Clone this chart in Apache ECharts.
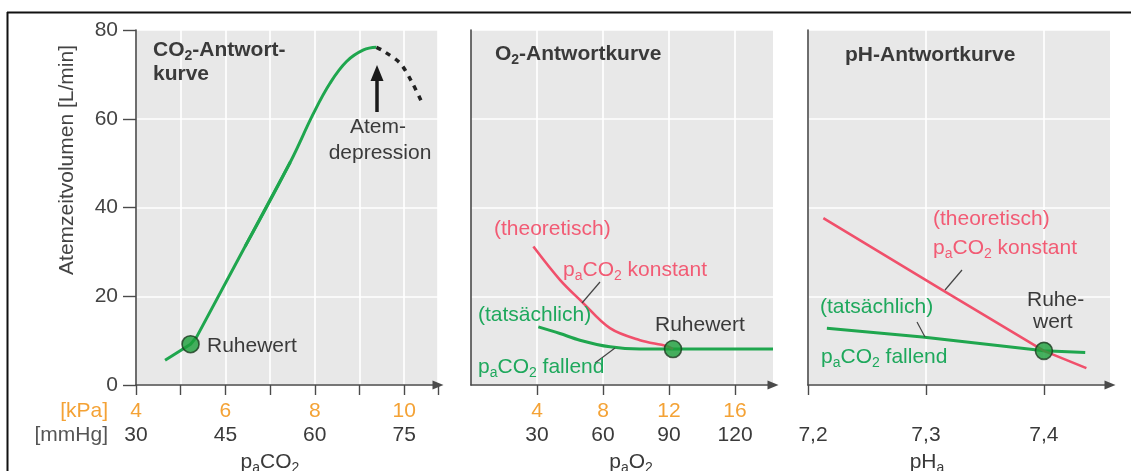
<!DOCTYPE html>
<html>
<head>
<meta charset="utf-8">
<script src="https://cdn.jsdelivr.net/npm/echarts@6/dist/echarts.min.js"></script>
<style>html,body{margin:0;padding:0;background:#fff}#c{width:1131px;height:471px}</style>
</head>
<body>
<div id="c"></div>
<script>
// ---------- DATA ----------
// Panel 1: CO2-Antwortkurve, x = paCO2 in kPa, y = Atemzeitvolumen [L/min]
const co2Lower = [[4.65,5.6],[5.22,9.2],[5.36,10.9],[6.44,31.2],[7.45,50.2]];
const co2Upper = [[6.44,31.2],[7.45,50.2],[7.97,61.2],[8.34,68.0],[8.71,72.9],[9.09,75.5],[9.38,76.1]];
const co2Depression = [[9.38,76.1],[9.53,75.3],[9.91,72.5],[10.17,68.3],[10.39,63.8]];
const co2Rest = [[5.22,9.2]];
// Panel 2: O2-Antwortkurve, x = paO2 in kPa
const o2Theoretical = [[3.78,31.2],[5.39,23.7],[6.71,18.8],[8.42,12.8],[10.24,10.1],[11.86,8.8],[12.24,8.1]];
const o2Actual = [[4.08,13.1],[5.39,11.6],[6.6,10.1],[8.42,8.6],[10.24,8.1],[12.24,8.1],[18.3,8.1]];
const o2Rest = [[12.24,8.1]];
// Panel 3: pH-Antwortkurve, x = pHa
const phTheoretical = [[7.213,37.6],[7.314,21.4],[7.4,7.7],[7.436,3.8]];
const phActual = [[7.216,12.8],[7.297,10.8],[7.4,7.7],[7.435,7.3]];
const phRest = [[7.4,7.7]];
// Tick labels
const yTicks = [0,20,40,60,80];
const co2KpaTicks = [4,6,8,10];
const co2MmHgTicks = ['30','45','60','75'];
const o2KpaTicks = [4,8,12,16];
const o2MmHgTicks = ['30','60','90','120'];
const phTicks = [7.2,7.3,7.4];
const phTickLabels = ['7,2','7,3','7,4'];

// ---------- STYLE ----------
const FONT = "'Liberation Sans', Arial, Helvetica, sans-serif";
const GREEN = '#1fa64e', GREEN_T = '#1ea85c', RED = '#f0506b', RED_T = '#f25b74';
const ORANGE = '#f4a235', DARK = '#3a3a3a', AXIS = '#4a4a4a', BG = '#e8e8e8';
const FS = 21;

function idxOf(arr, v){ for (let i=0;i<arr.length;i++) if (Math.abs(arr[i]-v)<1e-6) return i; return -1; }
const labelRich = {
  k:{color:ORANGE, fontSize:FS, fontFamily:FONT, lineHeight:24},
  m:{color:DARK, fontSize:FS, fontFamily:FONT, lineHeight:24},
  p:{color:DARK, fontSize:FS, fontFamily:FONT, lineHeight:24, padding:[0,0,0,10]}
};

function xAx(gi, min, max, extra){
  return Object.assign({
    type:'value', gridIndex:gi, min:min, max:max,
    axisLine:{show:true, onZero:false, symbol:['none','triangle'], symbolSize:[9,11], lineStyle:{color:AXIS, width:1.6}},
    axisTick:{show:true, length:10, lineStyle:{color:AXIS, width:1.4}},
    splitLine:{show:true, lineStyle:{color:'#ffffff', width:1.6}}
  }, extra);
}
function yAx(gi, showLabels){
  return {
    type:'value', gridIndex:gi, min:0, max:80, interval:20,
    axisLine:{show:true, lineStyle:{color:AXIS, width:1.6}},
    axisTick:{show:showLabels, length:13, lineStyle:{color:AXIS, width:1.4}},
    axisLabel:{show:showLabels, fontSize:FS, fontFamily:FONT, color:'#444', margin:18},
    splitLine:{show:true, lineStyle:{color:'#ffffff', width:1.6}}
  };
}

function rich(color, bold){
  const w = bold ? 'bold' : 'normal';
  return {
    n:{fontSize:FS, fontFamily:FONT, fontWeight:w, fill:color, lineHeight:26},
    s:{fontSize:14, fontFamily:FONT, fontWeight:w, fill:color, lineHeight:14, verticalAlign:'bottom'}
  };
}
function T(x, y, text, color, opt){
  opt = opt || {};
  return {type:'text', x:x, y:y, z:100, rotation:opt.rot || 0,
    style:{text:text, align:opt.align || 'left', verticalAlign:'middle', rich:rich(color, opt.bold)}};
}
function L(x1,y1,x2,y2,w,c){
  return {type:'line', z:90, shape:{x1:x1,y1:y1,x2:x2,y2:y2}, style:{stroke:c||'#444', lineWidth:w||1.2}};
}

const restItem = {color:'#1a9f3a', borderColor:'#1d3b21', borderWidth:1.6};

const option = {
  animation:false,
  backgroundColor:'#ffffff',
  grid:[
    {left:136, top:30, width:302, height:355, show:true, backgroundColor:BG, borderWidth:0},
    {left:471, top:30, width:302, height:355, show:true, backgroundColor:BG, borderWidth:0},
    {left:808, top:30, width:302, height:355, show:true, backgroundColor:BG, borderWidth:0}
  ],
  xAxis:[
    xAx(0, 4, 10.756, {interval:1,
      axisLabel:{customValues:co2KpaTicks, margin:14, rich:labelRich,
        formatter:function(v){const i=idxOf(co2KpaTicks,v); return i<0?'':'{k|'+v+'}\n{m|'+co2MmHgTicks[i]+'}';}}}),
    xAx(1, 0, 18.3, {
      axisTick:{show:true, customValues:o2KpaTicks, length:10, lineStyle:{color:AXIS, width:1.4}},
      axisLabel:{customValues:o2KpaTicks, margin:14, rich:labelRich,
        formatter:function(v){const i=idxOf(o2KpaTicks,v); return i<0?'':'{k|'+v+'}\n{m|'+o2MmHgTicks[i]+'}';}}}),
    xAx(2, 7.2, 7.456, {
      axisTick:{show:true, customValues:phTicks, length:10, lineStyle:{color:AXIS, width:1.4}},
      axisLabel:{customValues:phTicks, margin:14, rich:labelRich,
        formatter:function(v){const i=idxOf(phTicks,v); return i<0?'':'{k| }\n{'+(i===0?'p':'m')+'|'+phTickLabels[i]+'}';}}})
  ],
  yAxis:[ yAx(0,true), yAx(1,false), yAx(2,false) ],
  series:[
    {type:'line', xAxisIndex:0, yAxisIndex:0, data:co2Lower, showSymbol:false, smooth:false,
      lineStyle:{color:GREEN, width:3}, z:3},
    {type:'line', xAxisIndex:0, yAxisIndex:0, data:co2Upper, showSymbol:false, smooth:0.4,
      lineStyle:{color:GREEN, width:3}, z:3},
    {type:'line', xAxisIndex:0, yAxisIndex:0, data:co2Depression, showSymbol:false, smooth:0.3,
      lineStyle:{color:'#222', width:3.5, type:[5,6]}, z:3},
    {type:'scatter', xAxisIndex:0, yAxisIndex:0, data:co2Rest, symbolSize:17, itemStyle:restItem, z:5},

    {type:'line', xAxisIndex:1, yAxisIndex:1, data:o2Actual, showSymbol:false, smooth:0.35,
      lineStyle:{color:GREEN, width:3}, z:3},
    {type:'line', xAxisIndex:1, yAxisIndex:1, data:o2Theoretical, showSymbol:false, smooth:0.35,
      lineStyle:{color:RED, width:2.6}, z:4},
    {type:'scatter', xAxisIndex:1, yAxisIndex:1, data:o2Rest, symbolSize:17, itemStyle:restItem, z:5},

    {type:'line', xAxisIndex:2, yAxisIndex:2, data:phActual, showSymbol:false, smooth:false,
      lineStyle:{color:GREEN, width:3}, z:3},
    {type:'line', xAxisIndex:2, yAxisIndex:2, data:phTheoretical, showSymbol:false, smooth:false,
      lineStyle:{color:RED, width:2.6}, z:4},
    {type:'scatter', xAxisIndex:2, yAxisIndex:2, data:phRest, symbolSize:17, itemStyle:restItem, z:5}
  ],
  graphic:[
    // frame
    L(7,12.5,1131,12.5,2,'#111'), L(7.5,12,7.5,471,2,'#111'),
    // y axis name
    T(67,160,'{n|Atemzeitvolumen [L/min]}','#444',{align:'center',rot:Math.PI/2}),
    // unit labels
    T(108,411,'{n|[kPa]}',ORANGE,{align:'right'}),
    T(108,435,'{n|[mmHg]}','#555',{align:'right'}),
    // axis names
    T(270,462,'{n|p}{s|a}{n|CO}{s|2}',DARK,{align:'center'}),
    T(631,462,'{n|p}{s|a}{n|O}{s|2}',DARK,{align:'center'}),
    T(927,462,'{n|pH}{s|a}',DARK,{align:'center'}),
    // panel 1
    T(153,50,'{n|CO}{s|2}{n|-Antwort-}',DARK,{bold:true}),
    T(153,74,'{n|kurve}',DARK,{bold:true}),
    T(207,346,'{n|Ruhewert}',DARK),
    T(378,127,'{n|Atem-}',DARK,{align:'center'}),
    T(380,153,'{n|depression}',DARK,{align:'center'}),
    L(377,112,377,78,3.5,'#1a1a1a'),
    {type:'polygon', z:90, shape:{points:[[370.5,81],[383.5,81],[377,65]]}, style:{fill:'#1a1a1a'}},
    // panel 2
    T(495,54,'{n|O}{s|2}{n|-Antwortkurve}',DARK,{bold:true}),
    T(494,229,'{n|(theoretisch)}',RED_T),
    T(563,270,'{n|p}{s|a}{n|CO}{s|2}{n| konstant}',RED_T),
    L(600,282,582,303),
    T(478,315,'{n|(tatsächlich)}',GREEN_T),
    T(655,325,'{n|Ruhewert}',DARK),
    T(478,367,'{n|p}{s|a}{n|CO}{s|2}{n| fallend}',GREEN_T),
    L(595,363,615,348),
    // panel 3
    T(845,55,'{n|pH-Antwortkurve}',DARK,{bold:true}),
    T(933,219,'{n|(theoretisch)}',RED_T),
    T(933,248,'{n|p}{s|a}{n|CO}{s|2}{n| konstant}',RED_T),
    L(962,270,945,290),
    T(820,307,'{n|(tatsächlich)}',GREEN_T),
    T(1027,300,'{n|Ruhe-}',DARK),
    T(1033,322,'{n|wert}',DARK),
    T(821,357,'{n|p}{s|a}{n|CO}{s|2}{n| fallend}',GREEN_T),
    L(917,322,925,337)
  ]
};

const chart = echarts.init(document.getElementById('c'), null, {renderer:'canvas'});
chart.setOption(option);
</script>
</body>
</html>
